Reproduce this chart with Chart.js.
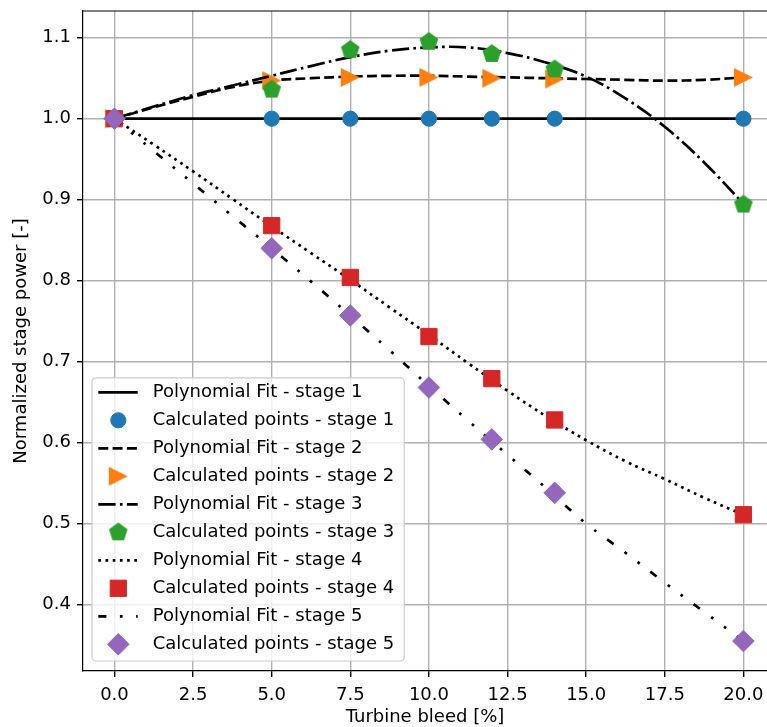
<!DOCTYPE html>
<html lang="en">
<head>
  <meta charset="UTF-8" />
  <title>Normalized stage power vs turbine bleed</title>
  <script src="https://cdn.jsdelivr.net/npm/chart.js"></script>
  <style>
    html, body { margin: 0; padding: 0; overflow: hidden; background: #fff; }
    .wrap { width: 767px; height: 727px; }
  </style>
</head>
<body>
  <div class="wrap"><canvas id="chart"></canvas></div>
  <script>
    // polynomial fit curves, every 1.25 %
    const fitX = [0, 1.25, 2.5, 3.75, 5, 6.25, 7.5, 8.75, 10, 11.25, 12.5, 13.75, 15, 16.25, 17.5, 18.75, 20];
    const fit1 = [1, 1, 1, 1, 1, 1, 1, 1, 1, 1, 1, 1, 1, 1, 1, 1, 1];
    const fit2 = [1.000, 1.014, 1.027, 1.039, 1.047, 1.050, 1.052, 1.053, 1.053, 1.052, 1.051, 1.050, 1.049, 1.048, 1.047, 1.048, 1.051];
    const fit3 = [1.000, 1.015, 1.029, 1.041, 1.053, 1.065, 1.076, 1.084, 1.088, 1.088, 1.081, 1.069, 1.052, 1.025, 0.990, 0.946, 0.895];
    const fit4 = [1.000, 0.968, 0.935, 0.901, 0.867, 0.834, 0.801, 0.767, 0.733, 0.698, 0.664, 0.632, 0.603, 0.577, 0.555, 0.532, 0.511];
    const fit5 = [1.000, 0.960, 0.920, 0.880, 0.840, 0.799, 0.757, 0.714, 0.670, 0.627, 0.585, 0.543, 0.500, 0.464, 0.427, 0.391, 0.355];

    // calculated points
    const pointX = [0, 5, 7.5, 10, 12, 14, 20];
    const calc1 = [1, 1, 1, 1, 1, 1, 1];
    const calc2 = [1.000, 1.047, 1.051, 1.051, 1.050, 1.049, 1.051];
    const calc3 = [1.000, 1.036, 1.085, 1.095, 1.080, 1.061, 0.894];
    const calc4 = [1.000, 0.868, 0.804, 0.731, 0.679, 0.628, 0.511];
    const calc5 = [1.000, 0.840, 0.757, 0.668, 0.604, 0.538, 0.355];

    const xTicks = [0, 2.5, 5, 7.5, 10, 12.5, 15, 17.5, 20];
    const yTicks = [0.4, 0.5, 0.6, 0.7, 0.8, 0.9, 1.0, 1.1];

    const FONT = { family: '"DejaVu Sans"', size: 18 };
    const LW = 2.7;

    // matplotlib-like markers that Chart.js lacks
    function triangleRight(color, s) {
      const c = document.createElement('canvas');
      c.width = c.height = s + 2;
      const g = c.getContext('2d');
      const m = (s + 2) / 2;
      g.fillStyle = color;
      g.beginPath();
      g.moveTo(m - s / 2, m - s / 2);
      g.lineTo(m + s / 2, m);
      g.lineTo(m - s / 2, m + s / 2);
      g.closePath();
      g.fill();
      return c;
    }
    function pentagon(color, r) {
      const c = document.createElement('canvas');
      const s = Math.ceil(2 * r + 2);
      c.width = c.height = s;
      const g = c.getContext('2d');
      g.fillStyle = color;
      g.beginPath();
      for (let k = 0; k < 5; k++) {
        const a = -Math.PI / 2 + k * 2 * Math.PI / 5;
        g.lineTo(s / 2 + r * Math.cos(a), s / 2 + r * Math.sin(a));
      }
      g.closePath();
      g.fill();
      return c;
    }

    const xy = (xs, ys) => xs.map((x, i) => ({ x: x, y: ys[i] }));

    function fitSet(label, ys, dash) {
      return {
        label: label, data: xy(fitX, ys), showLine: true,
        borderColor: '#000', backgroundColor: '#000', borderWidth: LW,
        borderDash: dash, pointRadius: 0, tension: 0.4
      };
    }
    function pointSet(label, ys, color, style, radius) {
      return {
        label: label, data: xy(pointX, ys), showLine: false,
        backgroundColor: color, borderColor: color, borderWidth: 1,
        pointStyle: style, pointRadius: radius
      };
    }

    const datasets = [
      fitSet('Polynomial Fit - stage 1', fit1, []),
      pointSet('Calculated points - stage 1', calc1, '#1f77b4', 'circle', 7.6),
      fitSet('Polynomial Fit - stage 2', fit2, [10, 4.3]),
      pointSet('Calculated points - stage 2', calc2, '#ff7f0e', triangleRight('#ff7f0e', 19), 9),
      fitSet('Polynomial Fit - stage 3', fit3, [17.3, 4.3, 2.7, 4.3]),
      pointSet('Calculated points - stage 3', calc3, '#2ca02c', pentagon('#2ca02c', 9.8), 9),
      fitSet('Polynomial Fit - stage 4', fit4, [2.7, 4.5]),
      pointSet('Calculated points - stage 4', calc4, '#d62728', 'rect', 11.5),
      fitSet('Polynomial Fit - stage 5', fit5, [8.1, 13.5, 2.7, 13.5, 2.7, 13.5]),
      pointSet('Calculated points - stage 5', calc5, '#9467bd', 'rectRot', 10.8)
    ];
    // later series on top, like matplotlib
    datasets.forEach((d, i) => { d.order = datasets.length - i; });

    // top spine (the right one is cut off in the original figure)
    const frame = {
      id: 'frame',
      afterDatasetsDraw(chart) {
        const { ctx, chartArea: a } = chart;
        ctx.save();
        ctx.strokeStyle = '#000';
        ctx.lineWidth = 1.2;
        ctx.beginPath();
        ctx.moveTo(a.left, a.top);
        ctx.lineTo(a.right, a.top);
        ctx.stroke();
        ctx.restore();
      }
    };

    // legend box in the lower left of the axes
    const legendBox = {
      id: 'legendBox',
      afterDatasetsDraw(chart) {
        const { ctx, chartArea } = chart;
        const sets = chart.data.datasets;
        ctx.save();
        ctx.font = '18px "DejaVu Sans"';
        const textW = Math.max(...sets.map(d => ctx.measureText(d.label).width));
        const rowH = 28;
        const left = chartArea.left + 9;
        const bottom = chartArea.bottom - 10;
        const h = 14.5 + rowH * (sets.length - 1) + 16.7;
        const top = bottom - h;
        const w = 60.7 + textW + 10;
        ctx.beginPath();
        ctx.roundRect(left, top, w, h, 4);
        ctx.fillStyle = 'rgba(255,255,255,0.8)';
        ctx.fill();
        ctx.strokeStyle = '#cccccc';
        ctx.lineWidth = 1.2;
        ctx.stroke();
        sets.forEach((d, i) => {
          const y = top + 14.5 + i * rowH;
          if (d.showLine) {
            ctx.beginPath();
            ctx.setLineDash(d.borderDash);
            ctx.lineWidth = d.borderWidth;
            ctx.strokeStyle = d.borderColor;
            ctx.moveTo(left + 6.3, y);
            ctx.lineTo(left + 45.7, y);
            ctx.stroke();
            ctx.setLineDash([]);
          } else {
            ctx.fillStyle = d.backgroundColor;
            ctx.strokeStyle = d.borderColor;
            ctx.lineWidth = d.borderWidth;
            Chart.helpers.drawPoint(ctx, {
              pointStyle: d.pointStyle, radius: d.pointRadius,
              borderWidth: d.borderWidth, rotation: 0
            }, left + 26.3, y);
          }
          ctx.fillStyle = '#000';
          ctx.textBaseline = 'middle';
          ctx.textAlign = 'left';
          ctx.fillText(d.label, left + 60.7, y);
        });
        ctx.restore();
      }
    };

    new Chart(document.getElementById('chart'), {
      type: 'scatter',
      data: { datasets: datasets },
      plugins: [frame, legendBox],
      options: {
        responsive: true,
        maintainAspectRatio: false,
        animation: false,
        events: [],
        layout: { autoPadding: false, padding: { top: 11, right: 0, bottom: 0, left: 0 } },
        plugins: { legend: { display: false }, tooltip: { enabled: false } },
        scales: {
          x: {
            // the original axes run to 21 but the figure is cropped at about 20.75
            type: 'linear', min: -1, max: 20.75,
            afterBuildTicks: s => { s.ticks = xTicks.map(v => ({ value: v })); },
            afterFit: s => { s.height = 56; s.paddingLeft = 0; s.paddingRight = 0; },
            ticks: { font: FONT, color: '#000', padding: 8, maxRotation: 0, callback: v => v.toFixed(1) },
            grid: { color: '#b0b0b0', lineWidth: 1.4, tickColor: '#000', tickLength: 6 },
            border: { color: '#000', width: 1.2 },
            title: { display: true, text: 'Turbine bleed [%]', font: FONT, color: '#000', padding: { top: 0, bottom: -1 } }
          },
          y: {
            type: 'linear', min: 0.318, max: 1.133,
            afterBuildTicks: s => { s.ticks = yTicks.map(v => ({ value: v })); },
            afterFit: s => { s.width = 83; s.paddingTop = 0; s.paddingBottom = 0; },
            ticks: { font: FONT, color: '#000', padding: 6, callback: v => v.toFixed(1) },
            grid: { color: '#b0b0b0', lineWidth: 1.4, tickColor: '#000', tickLength: 6 },
            border: { color: '#000', width: 1.2 },
            title: { display: true, text: 'Normalized stage power [-]', font: FONT, color: '#000', padding: { top: 11, bottom: 0 } }
          }
        }
      }
    });
  </script>
</body>
</html>
